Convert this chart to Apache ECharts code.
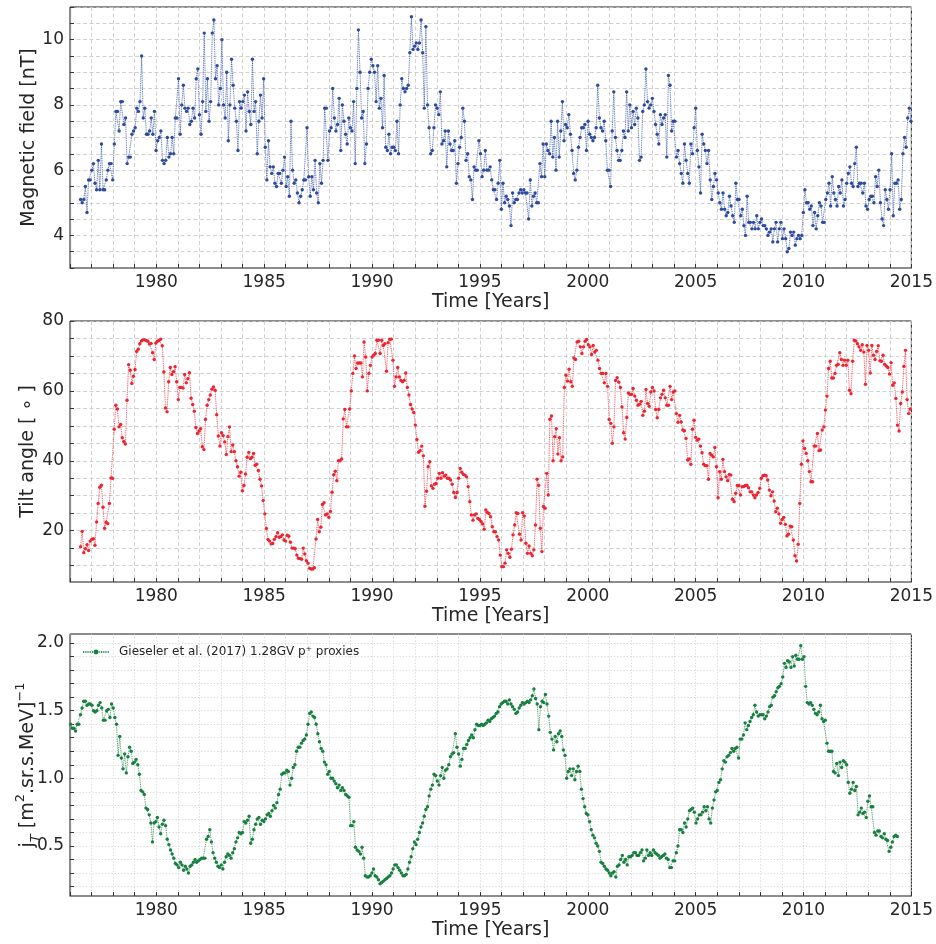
<!DOCTYPE html>
<html>
<head>
<meta charset="utf-8">
<title>IMF, tilt angle and GCR proxies</title>
<script src="https://cdn.jsdelivr.net/npm/echarts@6/dist/echarts.min.js"></script>
<style>
html, body { margin: 0; padding: 0; background: #fff; }
#chart { width: 936px; height: 944px; }
</style>
</head>
<body>
<div id="chart"></div>
<script>
// values, one point every ~27 days
var magStart = 1976.49, magEnd = 2014.98;
var magField = [
  5.1,5.0,5.1,5.5,4.7,5.7,5.7,6.0,6.2,5.6,5.4,6.3,5.4,6.8,5.4,5.4,5.7,6.0,6.2,6.2,
  5.7,6.8,7.8,7.8,7.2,8.1,8.1,7.4,7.6,6.2,6.4,6.4,7.1,7.2,7.3,7.9,7.8,8.1,9.5,7.6,
  7.9,7.1,7.1,7.2,7.6,7.1,7.8,6.6,6.9,7.0,7.2,6.3,6.2,6.3,7.0,6.4,6.5,7.0,6.5,7.6,
  7.6,8.8,7.1,8.0,8.6,7.9,7.8,7.9,7.4,7.5,7.9,7.6,8.8,9.1,7.7,7.1,8.1,10.2,7.8,8.8,
  7.5,8.1,10.2,10.6,8.8,9.2,8.0,8.5,10.0,8.0,7.6,9.0,6.9,8.0,9.4,8.6,7.9,7.5,6.6,8.1,
  7.9,8.1,8.3,7.2,8.4,7.8,7.4,9.4,7.8,8.1,6.5,7.5,8.3,7.6,8.8,6.7,5.7,6.9,6.1,5.9,
  6.1,5.6,5.5,5.9,5.9,5.6,6.0,6.4,5.5,5.8,5.2,7.5,6.0,5.6,5.7,5.3,5.0,5.2,5.4,5.7,
  5.7,7.3,5.8,5.2,5.8,5.4,6.3,5.3,5.0,6.2,5.6,6.3,
  7.9,7.9,6.3,7.2,7.3,8.5,7.6,7.2,7.4,8.2,6.6,8.0,7.5,7.1,6.8,7.6,7.3,7.2,8.1,6.2,
  8.5,10.3,9.0,7.6,7.8,6.2,6.8,8.5,9.0,9.4,9.2,9.0,8.1,9.2,7.9,8.2,7.3,8.9,6.7,6.6,
  7.1,6.5,6.7,6.7,6.6,7.5,6.5,8.0,8.8,8.5,8.4,8.5,8.6,9.6,10.7,9.7,9.8,9.9,9.7,9.9,
  10.6,9.6,7.9,10.4,8.0,7.3,6.5,6.6,7.3,8.0,7.9,7.7,8.4,6.8,6.9,7.2,6.1,7.2,6.8,6.6,
  6.6,6.9,5.6,6.2,6.7,7.0,7.9,7.5,6.3,6.5,5.8,5.7,5.1,6.1,6.0,6.0,6.9,6.5,5.8,6.0,
  6.6,6.0,6.0,6.1,5.7,5.4,5.4,5.1,5.6,6.3,4.8,5.6,5.0,5.2,5.1,4.9,4.3,5.3,5.0,5.1,
  5.1,5.3,5.4,5.3,5.4,5.3,5.3,4.5,5.7,4.9,5.2,5.3,5.0,5.0,6.2,5.8,6.8,5.8,6.8,6.6,
  6.5,7.5,6.4,7.0,6.0,7.5,6.4,7.2,8.1,6.9,7.4,7.3,7.7,7.1,6.6,5.9,5.7,6.0,6.7,7.0,
  7.3,7.3,7.4,6.6,7.5,7.1,7.0,6.9,7.0,7.3,8.6,7.6,7.3,7.2,7.5,6.9,6.0,6.0,5.5,7.2,
  8.4,
  7.0,6.6,6.3,6.3,6.6,7.2,7.0,8.4,7.2,8.0,7.3,7.8,7.4,7.9,7.6,6.3,6.4,7.8,8.0,9.1,
  8.1,7.9,8.0,8.2,7.8,7.4,7.1,6.8,7.7,7.4,7.6,7.7,6.4,8.9,8.6,7.2,7.5,7.5,6.4,6.6,
  6.2,5.9,5.6,6.8,6.3,5.9,5.6,6.8,6.5,7.3,7.9,6.6,6.1,5.3,7.1,6.8,6.6,6.2,6.6,5.7,
  5.1,5.5,5.9,5.7,5.3,5.0,4.8,5.3,4.8,4.6,4.7,5.2,4.9,4.6,4.4,5.6,5.1,5.1,4.6,4.8,
  4.3,4.0,5.2,4.4,4.4,4.2,4.4,4.2,4.6,4.2,4.4,4.5,4.3,4.3,4.2,4.0,4.1,4.2,3.8,4.2,
  4.4,3.8,4.2,4.4,3.9,4.2,3.9,3.5,3.6,4.1,4.0,4.1,3.7,3.9,4.0,3.9,4.0,4.7,5.4,5.0,
  5.0,4.8,4.9,4.3,4.7,4.2,4.6,5.0,4.9,4.4,4.4,5.1,5.3,5.6,4.9,5.8,5.3,5.1,4.9,5.5,
  5.3,5.7,4.9,5.1,5.6,5.9,6.1,5.6,5.5,6.2,6.7,5.5,5.6,5.6,5.3,5.6,4.9,4.8,5.1,5.2,
  5.2,5.0,5.8,5.5,6.0,5.0,4.5,4.3,5.4,5.1,4.8,5.4,6.5,4.6,5.6,5.6,5.7,4.8,5.1,6.5,
  7.0,6.7,7.6,7.9,7.5
];

var tiltStart = 1976.49, tiltEnd = 2014.95;
var tiltAngle = [
  15.4,19.8,13.7,14.8,16.0,14.3,17.0,17.5,17.7,15.8,22.5,27.8,32.4,33.0,26.7,20.7,22.4,22.0,27.8,35.1,
  35.0,49.0,55.9,54.8,49.7,50.4,46.6,45.5,44.8,57.3,67.5,65.9,62.1,64.2,66.1,71.3,71.9,73.5,74.3,74.6,
  74.6,74.4,74.2,73.4,73.6,70.9,69.0,73.7,74.2,74.4,74.8,72.9,65.4,55.1,54.0,62.6,66.7,64.7,65.5,66.9,
  62.6,57.5,61.0,61.0,60.8,64.7,62.3,63.5,65.2,57.9,56.1,54.2,49.5,47.8,48.5,49.2,44.0,43.2,51.8,55.9,
  57.5,58.8,60.5,61.1,60.2,53.2,47.1,44.2,48.0,47.2,45.4,41.8,46.9,49.7,42.6,44.5,42.6,40.0,38.3,35.6,
  36.7,31.4,32.9,36.2,41.0,42.4,40.6,41.0,42.1,38.7,39.0,37.2,34.7,32.8,28.6,24.8,20.6,17.5,17.0,16.2,
  16.3,17.5,18.3,19.4,18.1,18.3,18.8,17.3,17.0,18.7,18.4,16.7,15.0,15.0,14.8,13.0,12.1,12.0,11.8,15.0,
  13.3,11.4,10.7,9.2,9.0,9.0,9.4,17.6,23.2,19.7,
  21.0,27.5,28.0,24.5,24.8,23.8,25.5,31.0,36.0,37.0,34.3,40.0,40.0,40.5,52.0,54.7,49.7,49.7,54.8,60.0,
  65.0,70.0,66.4,68.0,68.0,68.0,64.0,74.0,69.7,60.0,65.0,67.3,69.7,70.2,70.7,74.5,74.5,70.7,74.5,73.0,
  73.5,65.6,73.8,74.8,74.8,68.8,61.3,64.0,66.7,64.0,63.0,62.6,63.0,65.1,61.0,58.8,56.1,54.8,53.8,50.2,
  46.1,42.4,42.9,44.2,41.4,27.0,31.3,38.3,39.7,32.8,32.1,33.3,33.5,35.0,36.4,35.0,36.6,35.6,35.9,35.0,
  35.0,34.5,33.3,30.9,29.5,30.9,35.0,37.8,36.7,36.1,35.9,35.4,32.6,28.3,24.5,23.0,24.5,24.8,23.5,23.2,
  22.6,21.9,20.4,25.9,25.2,24.9,24.0,21.1,19.7,19.7,18.3,17.3,13.0,9.7,9.7,10.7,14.5,13.5,12.4,14.7,
  18.8,21.6,25.1,24.9,19.0,17.3,25.1,24.2,16.4,13.5,15.6,13.5,12.8,14.5,21.6,34.7,33.0,20.7,14.0,26.9,
  26.4,36.4,30.2,51.9,52.8,40.0,46.9,49.2,41.9,46.6,40.0,41.1,61.0,64.5,62.8,66.2,62.6,61.3,69.4,69.0,
  74.0,74.2,72.6,70.7,72.6,74.2,74.7,73.2,72.6,70.4,73.0,71.1,71.6,68.8,66.4,65.0,65.0,62.3,65.0,61.3,
  51.8,50.7,45.0,49.7,63.0,63.8,
  62.5,61.0,55.4,48.0,46.2,52.4,59.4,59.0,59.0,60.7,58.5,57.3,55.9,56.2,57.0,53.0,54.2,60.4,56.4,55.6,
  59.7,61.0,60.0,54.7,52.3,54.7,58.0,59.0,60.2,58.0,55.9,55.9,61.3,57.5,59.7,60.0,53.5,51.0,53.0,51.1,
  48.8,48.6,46.4,40.2,40.5,39.0,49.0,51.6,46.7,45.9,46.2,44.2,42.3,39.0,38.6,38.6,34.7,42.1,41.6,41.1,
  43.8,38.3,29.4,36.9,34.7,40.4,36.9,35.4,34.3,36.1,35.9,29.0,28.3,30.7,32.9,32.9,30.2,32.6,32.6,32.9,
  33.0,32.3,31.1,31.1,30.2,29.4,30.2,30.9,32.1,35.0,35.7,35.9,35.7,34.5,31.6,30.0,31.1,28.5,25.4,26.4,
  24.8,22.1,23.2,23.8,21.8,18.5,19.0,21.3,21.1,17.3,12.8,11.3,16.1,27.8,39.0,45.7,43.5,42.1,40.0,36.9,
  34.0,34.0,44.2,44.2,47.8,42.9,43.1,48.8,49.7,54.5,58.5,66.4,68.5,63.7,63.7,65.0,67.3,67.6,70.9,69.0,
  67.3,68.8,67.3,68.8,60.2,59.2,68.5,74.5,74.3,73.5,72.6,71.6,73.2,71.1,61.9,73.0,71.6,65.1,73.0,70.2,
  69.0,71.3,72.9,68.6,68.5,70.2,67.6,67.1,66.7,64.8,68.1,61.6,62.3,57.8,50.2,48.5,56.4,59.7,67.0,71.6,
  57.5,53.5,54.8
];

var fluxStart = 1976.03, fluxEnd = 2014.35;
var gcrFlux = [
  1.40,1.37,1.37,1.35,1.40,1.40,1.47,1.52,1.57,1.57,1.54,1.55,1.55,1.54,1.50,1.49,1.50,1.54,1.56,1.52,
  1.43,1.43,1.50,1.51,1.45,1.55,1.52,1.45,1.40,1.17,1.31,1.15,1.07,1.18,1.04,1.16,1.23,1.20,1.11,1.12,
  1.14,1.10,1.03,0.91,0.90,0.88,0.78,0.77,0.73,0.67,0.53,0.67,0.68,0.71,0.64,0.59,0.66,0.69,0.65,0.55,
  0.51,0.47,0.44,0.41,0.37,0.36,0.34,0.38,0.36,0.32,0.35,0.33,0.30,0.35,0.36,0.38,0.40,0.38,0.39,0.40,
  0.41,0.41,0.41,0.55,0.57,0.62,0.53,0.45,0.41,0.38,0.35,0.34,0.36,0.33,0.38,0.42,0.44,0.43,0.41,0.45,
  0.48,0.53,0.56,0.60,0.59,0.60,0.68,0.67,0.69,0.72,0.52,0.55,0.62,0.66,0.70,0.71,0.66,0.69,0.68,0.70,
  0.73,0.74,0.72,0.76,0.80,0.78,0.82,0.88,0.92,1.03,1.04,1.04,1.06,1.05,0.95,1.00,1.08,1.10,1.20,1.23,
  1.23,1.26,1.28,1.29,1.32,1.40,1.48,1.49,1.46,1.45,1.40,1.33,1.27,
  1.22,1.20,1.12,1.10,1.03,1.05,1.00,1.00,0.98,0.96,0.93,0.95,0.91,0.93,0.91,0.88,0.87,0.86,0.65,0.65,
  0.68,0.49,0.47,0.46,0.44,0.49,0.41,0.28,0.27,0.27,0.28,0.30,0.33,0.28,0.27,0.25,0.22,0.23,0.24,0.25,
  0.26,0.27,0.28,0.30,0.33,0.36,0.36,0.34,0.32,0.30,0.28,0.28,0.29,0.33,0.38,0.42,0.48,0.53,0.51,0.55,
  0.60,0.64,0.67,0.72,0.77,0.79,0.87,0.92,0.95,1.03,1.02,0.98,0.95,1.02,1.08,1.00,1.06,1.07,1.10,1.16,
  1.18,1.19,1.33,1.23,1.18,1.09,1.14,1.22,1.22,1.25,1.28,1.30,1.32,1.30,1.36,1.40,1.39,1.39,1.40,1.39,
  1.40,1.41,1.43,1.42,1.44,1.45,1.46,1.48,1.49,1.53,1.55,1.56,1.57,1.57,1.55,1.58,1.55,1.53,1.51,1.48,
  1.49,1.52,1.54,1.56,1.55,1.56,1.57,1.56,1.58,1.61,1.66,1.59,1.55,1.36,1.53,1.57,1.56,1.62,1.55,1.46,
  1.34,1.29,1.21,1.31,1.27,1.33,1.35,1.31,1.21,1.17,1.00,1.05,1.07,1.02,1.07,0.99,1.05,1.09,1.05,0.92,
  0.85,0.79,0.74,0.73,0.68,0.62,0.58,0.56,0.52,0.50,0.46,0.38,0.37,0.35,0.33,0.32,0.30,0.28,0.30,0.31,
  0.27,
  0.35,0.36,0.40,0.43,0.38,0.40,0.36,0.42,0.42,0.43,0.45,0.45,0.43,0.43,0.45,0.47,0.39,0.41,0.47,0.43,
  0.45,0.43,0.47,0.45,0.44,0.43,0.41,0.42,0.43,0.44,0.41,0.40,0.34,0.34,0.39,0.39,0.45,0.50,0.62,0.62,
  0.60,0.67,0.64,0.70,0.76,0.77,0.78,0.75,0.67,0.70,0.73,0.73,0.75,0.79,0.76,0.79,0.70,0.67,0.78,0.84,
  0.90,0.91,0.97,0.99,1.07,1.13,1.12,1.16,1.17,1.19,1.22,1.20,1.22,1.23,1.15,1.29,1.29,1.32,1.41,1.36,
  1.39,1.42,1.45,1.47,1.54,1.49,1.46,1.47,1.47,1.47,1.44,1.46,1.49,1.53,1.54,1.60,1.61,1.64,1.67,1.68,
  1.70,1.75,1.85,1.82,1.87,1.86,1.82,1.90,1.83,1.91,1.88,1.88,1.98,1.88,1.90,1.68,1.56,1.55,1.56,1.54,
  1.51,1.48,1.47,1.49,1.54,1.44,1.42,1.43,1.26,1.20,1.20,1.20,1.05,1.04,1.11,1.02,1.12,1.08,1.13,1.12,
  1.10,0.97,0.89,0.92,0.97,0.91,0.94,0.73,0.75,0.78,0.74,0.75,0.71,0.83,0.87,0.79,0.79,0.60,0.58,0.61,
  0.61,0.57,0.56,0.59,0.55,0.54,0.46,0.49,0.53,0.57,0.58,0.57
];

var yearLabels = [1980, 1985, 1990, 1995, 2000, 2005, 2010, 2015];
var magLabels = [4, 6, 8, 10];
var tiltLabels = [20, 40, 60, 80];
var tiltTicks = [10, 15, 20, 25, 30, 35, 40, 45, 50, 55, 60, 65, 70, 75, 80];
var fluxLabels = [0.5, 1.0, 1.5, 2.0];
var fluxTicks = [0.2, 0.3, 0.4, 0.5, 0.6, 0.7, 0.8, 0.9, 1.0, 1.1, 1.2, 1.3, 1.4, 1.5, 1.6, 1.7, 1.8, 1.9, 2.0];
var legendName = 'Gieseler et al. (2017) 1.28GV p\u207A proxies';

var FONT = 'DejaVu Sans';
var TXT = '#262626';
var blue = '#2c4a9e', red = '#ee2430', green = '#17803f';

var pairs = function(vals, t0, t1) {
    var step = (t1 - t0) / (vals.length - 1);
    return vals.map(function(v, i) { return [t0 + i * step, v]; });
};

var dashed = { color: '#c6c6c6', width: 0.8, type: [4, 2.5] };
var dotted = { color: '#cfcfcf', width: 0.8, type: [1.2, 2] };

var makeX = function(gi, grid) {
    return {
        type: 'value', gridIndex: gi, min: 1976, max: 2015, interval: 1,
        axisLine: { show: true, onZero: false, lineStyle: { color: '#8c8c8c', width: 1.2 } },
        axisTick: { show: true, inside: true, length: 4, lineStyle: { color: '#333', width: 1 } },
        axisLabel: { customValues: yearLabels, margin: 6, fontSize: 17, color: TXT, fontFamily: FONT,
            formatter: function(v) { return String(v); } },
        splitLine: { show: true, lineStyle: grid },
        name: 'Time [Years]', nameLocation: 'middle', nameGap: 25, nameMoveOverlap: false,
        nameTextStyle: { fontSize: 19, color: TXT, fontFamily: FONT }
    };
};

var makeY = function(gi, o) {
    var ax = {
        type: 'value', gridIndex: gi, min: o.min, max: o.max,
        axisLine: { show: true, lineStyle: { color: '#8c8c8c', width: 1.2 } },
        axisTick: { show: true, inside: true, length: 4, lineStyle: { color: '#333', width: 1 } },
        axisLabel: { customValues: o.labels, margin: 6, fontSize: 17, color: TXT, fontFamily: FONT,
            formatter: o.fmt || function(v) { return String(v); } },
        splitLine: { show: true, lineStyle: o.grid },
        name: o.name, nameLocation: 'middle', nameGap: o.gap, nameMoveOverlap: false,
        nameTextStyle: { fontSize: 19, color: TXT, fontFamily: FONT, rich: o.rich }
    };
    if (o.interval) ax.interval = o.interval;
    if (o.ticks) ax.axisTick.customValues = o.ticks;
    return ax;
};

var makeLine = function(gi, name, vals, t0, t1, color) {
    return {
        type: 'line', name: name, xAxisIndex: gi, yAxisIndex: gi,
        data: pairs(vals, t0, t1),
        symbol: 'circle', symbolSize: 3.4, showSymbol: true,
        lineStyle: { color: color, width: 0.9, type: [1, 0.8], opacity: 0.85 },
        itemStyle: { color: color },
        emphasis: { disabled: true }, z: 3
    };
};

var chart = echarts.init(document.getElementById('chart'), null, { renderer: 'canvas' });
var frame = { show: true, borderColor: '#1a1a1a', borderWidth: 1, backgroundColor: 'transparent' };

chart.setOption({
    animation: false,
    backgroundColor: '#fff',
    textStyle: { fontFamily: FONT },
    grid: [
        Object.assign({ left: 70, top: 7, width: 843, height: 261 }, frame),
        Object.assign({ left: 70, top: 321, width: 843, height: 261 }, frame),
        Object.assign({ left: 70, top: 634, width: 843, height: 262 }, frame)
    ],
    legend: {
        data: [legendName], left: 82, top: 646, itemWidth: 26, itemHeight: 6,
        padding: 0, textStyle: { fontSize: 12, color: TXT, fontFamily: FONT, padding: [0, 0, 0, 5] }
    },
    xAxis: [makeX(0, dashed), makeX(1, dashed), makeX(2, dotted)],
    yAxis: [
        makeY(0, { min: 3, max: 11, interval: 0.5, labels: magLabels, grid: dashed,
            name: 'Magnetic field [nT]', gap: 31 }),
        makeY(1, { min: 5.3, max: 80, ticks: tiltTicks, labels: tiltLabels, grid: dashed,
            name: 'Tilt angle [ \u2218 ]', gap: 32 }),
        makeY(2, { min: 0.13, max: 2.067, ticks: fluxTicks, labels: fluxLabels, grid: dotted,
            fmt: function(v) { return v.toFixed(1); },
            name: '{n|j}{sub|T}{n| [m}{sup|2}{n|.sr.s.MeV]}{sup|\u22121}', gap: 28,
            rich: {
                n: { fontSize: 19, color: TXT, fontFamily: FONT, lineHeight: 28 },
                sub: { fontSize: 13, color: TXT, fontFamily: FONT, fontStyle: 'italic', verticalAlign: 'bottom' },
                sup: { fontSize: 13, color: TXT, fontFamily: FONT, verticalAlign: 'top' }
            } })
    ],
    series: [
        makeLine(0, 'Magnetic field', magField, magStart, magEnd, blue),
        makeLine(1, 'Tilt angle', tiltAngle, tiltStart, tiltEnd, red),
        makeLine(2, legendName, gcrFlux, fluxStart, fluxEnd, green)
    ]
});
</script>
</body>
</html>
